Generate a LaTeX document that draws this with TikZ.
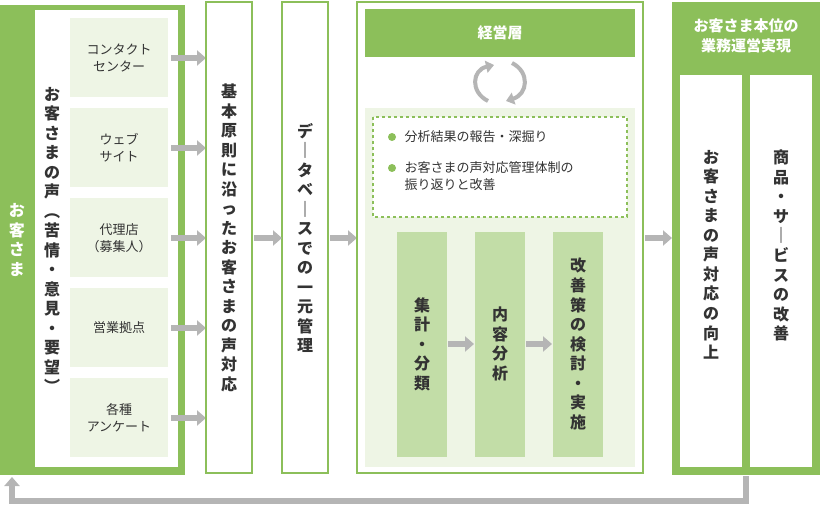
\documentclass[tikz,border=0pt]{standalone}
\usepackage{fontspec}
\setmainfont{Noto Sans CJK JP}
\usetikzlibrary{arrows.meta,positioning}
\definecolor{grn}{HTML}{8CBF5A}
\definecolor{lgrn}{HTML}{EEF5E5}
\definecolor{txt}{HTML}{333333}
\definecolor{arr}{HTML}{B5B5B5}
% vertical text: one character per line
\def\vtloop#1{\ifx#1\relax\else\hbox to 1.1em{\hss#1\hss}\expandafter\vtloop\fi}
\newcommand\vtext[1]{\vbox{\baselineskip=1.22em\vtloop#1\relax}}
\tikzset{
  gbox/.style={draw=grn, line width=1.5pt, fill=white},
  lbox/.style={fill=lgrn, draw=none},
  vlab/.style={font=\fontsize{16}{16}\selectfont\bfseries, text=txt, inner sep=0pt},
  hlab/.style={font=\fontsize{13}{17}\selectfont, text=txt, align=center},
  flow/.style={arr, line width=6pt, -{Triangle[length=9pt,width=15pt]}},
  cyc/.style={arr, line width=4pt, -{Triangle[length=8pt,width=12pt]}},
}
\begin{document}
\begin{tikzpicture}[x=1pt,y=-1pt]
\useasboundingbox (0,0) rectangle (820,508);
% left block
\fill[grn] (0,5) rectangle (185,475);
\fill[white] (35,10) rectangle (178,467);
\node (guest) [vlab, text=white] at (17,240) {\vtext{お客さま}};
\node (voice) [vlab] at (52,240) {\vtext{お客さまの声︵苦情・意見・要望︶}};
\foreach \y/\t [count=\i] in {18/{コンタクト\\センター}, 108/{ウェブ\\サイト}, 198/{代理店\\（募集人）}, 288/{営業拠点}, 378/{各種\\アンケート}} {
  \fill[lgrn] (70,\y) rectangle (168,\y+79);
  \node (src\i) [hlab] at (119,\y+40) {\t};
  \coordinate (s\i) at (171,\y+40);
  \coordinate (t\i) at (206,\y+40);
  \draw[flow] (s\i) -- (t\i);
}
% principle and database
\draw[gbox] (206,2) rectangle (252,473);
\node (basic) [vlab] at (229,238) {\vtext{基本原則に沿ったお客さまの声対応}};
\draw[gbox] (282,2) rectangle (328,473);
\node (db) [vlab] at (305,238) {\vtext{デ｜タベ｜スでの一元管理}};
\coordinate (a1) at (254,238); \coordinate (a2) at (282,238);
\coordinate (b1) at (330,238); \coordinate (b2) at (357,238);
\draw[flow] (a1) -- (a2);
\draw[flow] (b1) -- (b2);
% management block
\draw[gbox] (357,2) rectangle (643,473);
\fill[grn] (365,9) rectangle (635,57);
\node (mgmt) [font=\fontsize{15}{15}\selectfont\bfseries, text=white] at (500,33) {経営層};
\draw[cyc] (488,101) .. controls (470,92) and (472,70) .. (494,65);
\draw[cyc] (512,63) .. controls (530,72) and (528,94) .. (506,101);
\fill[lgrn] (365,108) rectangle (635,467);
\draw[grn, line width=1.2pt, dashed, fill=white] (373,117) rectangle (627,217);
\fill[grn] (392,137) circle (4);
\node (rep) [hlab, anchor=west] at (401,137) {分析結果の報告・深掘り};
\fill[grn] (392,168) circle (4);
\node (sys) [hlab, anchor=north west, align=left] at (401,158) {お客さまの声対応管理体制の\\振り返りと改善};
\foreach \x/\t [count=\i] in {397/{集計・分類}, 475/{内容分析}, 553/{改善策の検討・実施}} {
  \fill[grn!45!lgrn] (\x,232) rectangle (\x+50,457);
  \node (step\i) [vlab] at (\x+25,344) {\expandafter\vtext\expandafter{\t}};
}
\coordinate (c1) at (448,344); \coordinate (c2) at (474,344);
\coordinate (c3) at (526,344); \coordinate (c4) at (552,344);
\draw[flow] (c1) -- (c2);
\draw[flow] (c3) -- (c4);
% right block
\coordinate (d1) at (645,238); \coordinate (d2) at (672,238);
\draw[flow] (d1) -- (d2);
\fill[grn] (672,2) rectangle (820,475);
\node (goal) [font=\fontsize{15}{20}\selectfont\bfseries, text=white, align=center] at (746,36) {お客さま本位の\\業務運営実現};
\fill[white] (680,75) rectangle (742,467);
\fill[white] (750,75) rectangle (812,467);
\node (up) [vlab, anchor=north] at (711,150) {\vtext{お客さまの声対応の向上}};
\node (prod) [vlab, anchor=north] at (781,150) {\vtext{商品・サ｜ビスの改善}};
% feedback
\coordinate (f1) at (746,476);
\coordinate (f2) at (12,477);
\draw[arr, line width=6pt, -{Triangle[length=9pt,width=15pt]}] (f1) |- (400,501) -| (f2);
\end{tikzpicture}
\end{document}
